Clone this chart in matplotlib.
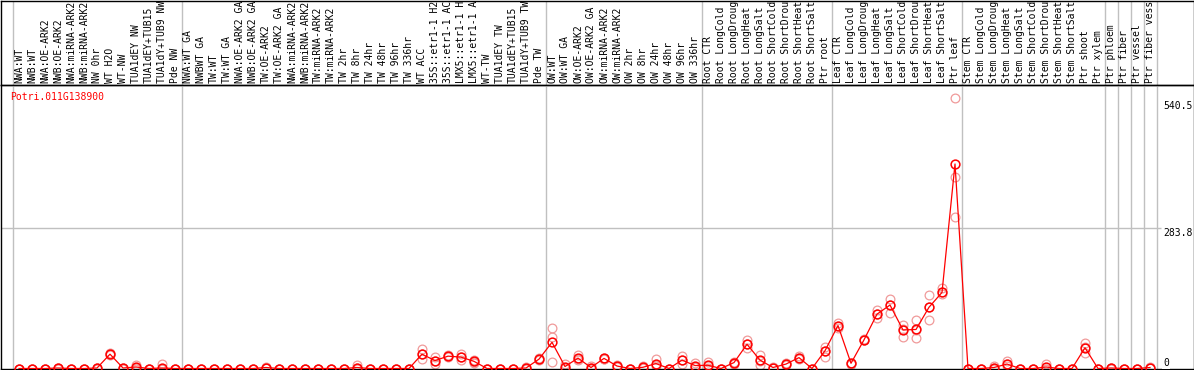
import matplotlib
matplotlib.use("Agg")
import matplotlib.pyplot as plt

# sample names, as far as they show in the header box
labels = [
    "NWA:WT", "NWB:WT", "NWA:OE-ARK2", "NWB:OE-ARK2", "NWA:miRNA-ARK2",
    "NWB:miRNA-ARK2", "NW 0hr", "WT H2O", "WT-NW", "TUA1dEY NW",
    "TUA1dEY+TUB15", "TUA1dY+TUB9 NW", "Pde NW",
    "NWA:WT GA", "NWBWT GA", "TW:WT", "TW:WT GA", "NWA:OE-ARK2 GA",
    "NWB:OE-ARK2 GA", "TW:OE-ARK2", "TW:OE-ARK2 GA", "NWA:miRNA-ARK2",
    "NWB:miRNA-ARK2", "TW:miRNA-ARK2", "TW:miRNA-ARK2", "TW 2hr", "TW 8hr",
    "TW 24hr", "TW 48hr", "TW 96hr", "TW 336hr", "WT ACC",
    "35S::etr1-1 H2", "35S::etr1-1 AC", "LMX5::etr1-1 H",
    "LMX5::etr1-1 A", "WT-TW", "TUA1dEY TW", "TUA1dEY+TUB15",
    "TUA1dY+TUB9 TW", "Pde TW",
    "OW:WT", "OW:WT GA", "OW:OE-ARK2", "OW:OE-ARK2 GA", "OW:miRNA-ARK2",
    "OW:miRNA-ARK2", "OW 2hr", "OW 8hr", "OW 24hr", "OW 48hr", "OW 96hr",
    "OW 336hr",
    "Root CTR", "Root LongCold", "Root LongDroug", "Root LongHeat",
    "Root LongSalt", "Root ShortCold", "Root ShortDrou", "Root ShortHeat",
    "Root ShortSalt", "Ptr root",
    "Leaf CTR", "Leaf LongCold", "Leaf LongDroug", "Leaf LongHeat",
    "Leaf LongSalt", "Leaf ShortCold", "Leaf ShortDrou", "Leaf ShortHeat",
    "Leaf ShortSalt", "Ptr leaf",
    "Stem CTR", "Stem LongCold", "Stem LongDroug", "Stem LongHeat",
    "Stem LongSalt", "Stem ShortCold", "Stem ShortDrou", "Stem ShortHeat",
    "Stem ShortSalt", "Ptr shoot", "Ptr xylem",
    "Ptr phloem", "Ptr fiber", "Ptr vessel", "Ptr fiber vess",
]

# mean expression per sample
means = [
    0, 0, 0, 1, 0, 0, 1, 29, 1, 3, 0, 1, 0,
    0, 0, 0, 0, 0, 0, 2, 0, 0, 0, 0, 0, 0, 2, 0, 0, 0, 0,
    29, 16, 25, 23, 14.5, 0, 0, 0, 1, 19,
    53, 4, 21, 2, 20.5, 5, 0, 2.5, 10, 0, 17, 6,
    6.5, 0, 12, 49, 17, 2, 9, 22, 0, 36,
    87, 10.5, 58, 110, 128.5, 78, 79, 124, 154, 414,
    0, 0, 2, 9, 0, 0, 3, 0, 0, 42, 0,
    1, 0, 0, 2,
]

# individual replicates per sample
replicates = [
    [0, 0, 0], [0, 0, 0], [0, 0, 0], [0, 1, 2], [0, 0, 0], [0, 0, 0],
    [0, 1, 2], [27, 29, 31], [0, 1, 2], [0, 2, 7], [0, 0, 0], [0, 0, 10],
    [0, 0, 0],
    [0, 0, 0], [0, 0, 0], [0, 0, 0], [0, 0, 0], [0, 0, 0], [0, 0, 0],
    [1, 2, 4], [0, 0, 0], [0, 0, 0], [0, 0, 0], [0, 0, 0], [0, 0, 0],
    [0, 0, 0], [0, 1, 7], [0, 0, 0], [0, 0, 0], [0, 0, 0], [0, 0, 0],
    [19, 29, 39], [10, 16, 23], [24, 25, 27], [17, 23, 29], [11, 14, 18],
    [0, 0, 0], [0, 0, 0], [0, 0, 0], [0, 1, 3], [18, 19, 21],
    [14, 64, 81], [1, 2, 10], [17, 20, 27], [0, 1, 6], [19, 20, 22],
    [3, 5, 7], [0, 0, 0], [1, 2, 5], [5, 7, 19], [0, 0, 0], [9, 17, 25],
    [3, 4, 12],
    [1, 5, 14], [0, 0, 0], [10, 12, 14], [41, 49, 58], [8, 16, 27],
    [1, 2, 3], [7, 9, 11], [20, 22, 25], [0, 0, 0], [23, 36, 44],
    [82, 87, 93], [9, 10, 12], [57, 58, 60], [103, 110, 118],
    [112, 128, 140], [63, 80, 88], [61, 78, 99], [99, 124, 149],
    [150, 154, 162], [306, 387, 547],
    [0, 0, 0], [0, 0, 0], [0, 2, 5], [5, 9, 15], [0, 0, 0], [0, 0, 0],
    [0, 0, 10], [0, 0, 0], [0, 0, 0], [31, 43, 52], [0, 0, 0],
    [0, 1, 2], [0, 0, 0], [0, 0, 0], [1, 2, 4],
]

gene_id = "Potri.011G138900"
y_ticks = [540.5, 283.8, 0]
y_tick_labels = ["540.5", "283.8", "0"]

# number of samples before each grey separator
group_ends = [0, 13, 41, 53, 63, 73, 84, 85, 86, 87, 88]

RED = "#ff0000"
PINK = "#f09a9a"
GREY = "#c0c0c0"
MONO = "DejaVu Sans Mono"
FS = 7.0

W, H = 1194, 370
fig = plt.figure(figsize=(W / 100, H / 100), dpi=100)

# pixel layout: sample i sits at x = 19 + 13 i
x0 = (0.5 - 19) / 13
x1 = (W - 0.5 - 19) / 13
xs = list(range(len(labels)))

# box holding the sample names
ax_top = fig.add_axes([0.5 / W, (H - 85) / H, (W - 1) / W, 84.5 / H])
ax_top.set_xlim(x0, x1)
ax_top.set_ylim(0, 1)
ax_top.set_xticks([])
ax_top.set_yticks([])
for s in ax_top.spines.values():
    s.set_color("black")
    s.set_linewidth(1)
for g in group_ends:
    ax_top.axvline(g - 0.5, color=GREY, lw=1)

# plot area
ax = fig.add_axes([0.5 / W, 1 / H, (W - 1) / W, 284 / H])
ax.patch.set_alpha(0)
ax.set_xlim(x0, x1)
scale = 0.494
ax.set_ylim((368.5 - 369) / scale, (368.5 - 85) / scale)
for s in ax.spines.values():
    s.set_color("black")
    s.set_linewidth(1)

ax.xaxis.tick_top()
ax.set_xticks(xs)
ax.set_xticklabels(labels, rotation=90, fontfamily=MONO, fontsize=FS)
ax.tick_params(axis="x", length=0, pad=1.2)
ax.set_yticks([])

for g in group_ends:
    ax.axvline(g - 0.5, color=GREY, lw=1, zorder=1)
ax.hlines(283.8, x0, 87.85, color=GREY, lw=1, zorder=1)

# replicates
for i, reps in enumerate(replicates):
    ax.plot([i] * len(reps), reps, linestyle="none", marker="o", ms=6.3,
            mfc="none", mec=PINK, mew=0.9, zorder=2)

# mean line
ax.plot(xs, means, color=RED, lw=0.9, marker="o", ms=6.3, mfc="none",
        mec=RED, mew=1.1, zorder=3)

ax.text(9.5 / 1193, (369 - 97) / 284, gene_id, transform=ax.transAxes,
        color=RED, fontfamily=MONO, fontsize=FS, ha="left", va="center")

for v, t in zip(y_ticks, y_tick_labels):
    ax.text(88.0, v, t, fontfamily=MONO, fontsize=FS, color="black",
            ha="left", va="bottom" if v == 0 else "top",
            bbox=dict(facecolor="white", edgecolor="none", pad=0.5))

fig.savefig("out.png", dpi=100)
